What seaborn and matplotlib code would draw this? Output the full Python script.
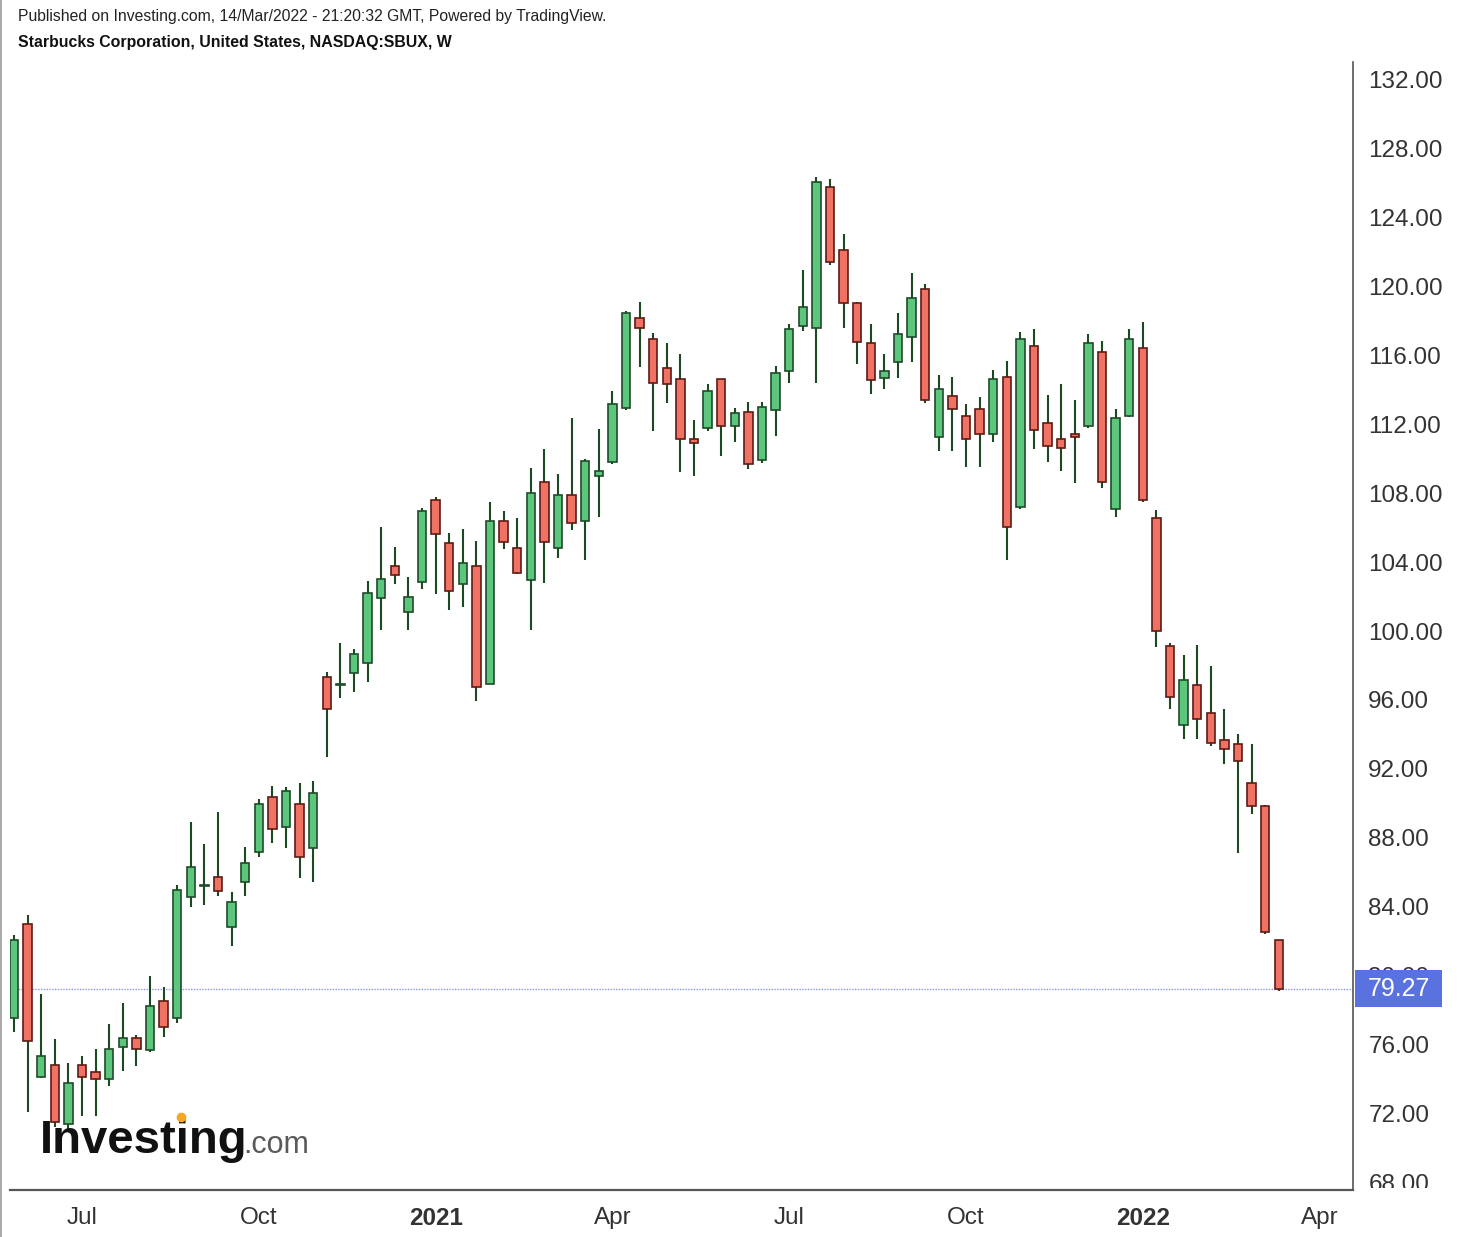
import numpy as np
import pandas as pd
import matplotlib
matplotlib.use("Agg")
import matplotlib.pyplot as plt
import seaborn as sns
from matplotlib.patches import Rectangle
from matplotlib.lines import Line2D
import matplotlib.transforms as mtransforms

# weekly OHLC, SBUX, weeks starting 2020-06-01
opens = [77.57, 83.01, 74.16, 74.84, 71.40, 74.84, 74.43, 74.01, 75.87, 76.42,
         75.71, 78.53, 77.55, 84.56, 85.20, 85.76, 82.82, 85.47, 87.17, 90.36,
         88.62, 89.95, 87.44, 97.35, 96.85, 97.58, 98.13, 101.93, 103.77, 101.12,
         102.82, 107.59, 105.08, 102.72, 103.77, 96.93, 106.40, 104.83, 102.96, 108.66,
         104.79, 107.88, 106.40, 109.00, 109.78, 112.94, 118.13, 116.93, 115.23, 114.59,
         111.13, 111.79, 114.59, 111.90, 112.71, 109.91, 112.81, 115.07, 117.70, 117.55,
         125.76, 122.09, 119.03, 116.68, 114.68, 115.58, 117.03, 119.83, 111.26, 113.64,
         112.46, 112.85, 111.40, 114.71, 107.17, 116.52, 112.04, 111.13, 111.42, 111.90,
         116.16, 107.06, 112.48, 116.39, 106.54, 99.12, 94.57, 96.88, 95.27, 93.70,
         93.44, 91.19, 89.85, 82.06]
highs = [82.38, 83.54, 78.94, 76.33, 74.97, 75.38, 75.79, 77.22, 78.42, 76.56,
         80.00, 79.34, 85.26, 88.95, 87.63, 89.49, 84.87, 87.50, 90.26, 91.03,
         90.94, 91.17, 91.30, 97.61, 99.32, 98.94, 102.90, 106.05, 104.89, 103.15,
         107.11, 107.79, 105.66, 105.91, 105.23, 107.50, 106.96, 106.57, 109.47, 110.53,
         109.08, 112.37, 109.97, 111.71, 113.93, 118.55, 119.09, 117.26, 116.71, 116.06,
         112.23, 114.32, 114.62, 112.91, 113.29, 113.29, 115.38, 117.78, 120.93, 126.30,
         126.19, 123.01, 119.10, 117.78, 116.06, 118.42, 120.77, 120.12, 114.84, 114.71,
         113.16, 113.55, 115.13, 115.65, 117.35, 117.49, 113.68, 114.32, 113.39, 117.22,
         116.83, 112.87, 117.49, 117.90, 106.99, 99.28, 98.62, 99.16, 97.96, 95.47,
         94.01, 93.46, 89.90, 82.10]
lows = [76.75, 72.13, 74.10, 71.26, 71.00, 71.88, 71.88, 73.62, 74.51, 74.78,
        75.60, 76.48, 77.29, 83.98, 84.12, 84.66, 81.76, 84.64, 86.88, 87.69,
        87.40, 85.70, 85.43, 92.71, 96.10, 96.48, 97.03, 100.06, 102.71, 100.06,
        102.42, 102.14, 101.22, 101.37, 95.96, 96.90, 104.75, 103.30, 100.06, 102.80,
        104.25, 105.86, 104.12, 106.63, 109.70, 112.81, 115.29, 111.61, 113.20, 109.23,
        108.99, 111.61, 110.16, 110.94, 109.37, 109.76, 111.32, 114.39, 117.39, 114.39,
        121.22, 117.55, 115.46, 113.72, 114.01, 114.65, 115.58, 113.20, 110.43, 110.43,
        109.52, 109.52, 110.97, 104.12, 107.10, 110.55, 109.78, 109.28, 108.60, 111.75,
        108.31, 106.63, 112.39, 107.50, 99.06, 95.47, 93.76, 93.76, 93.36, 92.30,
        87.14, 89.39, 82.41, 79.10]
closes = [82.09, 76.25, 75.36, 71.55, 73.78, 74.13, 74.01, 75.75, 76.42, 75.75,
          78.26, 77.03, 84.99, 86.30, 85.24, 84.93, 84.31, 86.53, 89.97, 88.50,
          90.74, 86.92, 90.63, 95.46, 96.90, 98.67, 102.18, 103.00, 103.25, 101.95,
          106.96, 105.61, 102.32, 103.92, 96.77, 106.40, 105.18, 103.34, 107.98, 105.18,
          107.88, 106.24, 109.86, 109.29, 113.14, 118.42, 117.55, 114.39, 114.30, 111.11,
          110.88, 113.91, 111.90, 112.62, 109.66, 113.00, 114.97, 117.49, 118.80, 126.01,
          121.37, 119.00, 116.77, 114.55, 115.09, 117.22, 119.32, 113.39, 114.03, 112.85,
          111.11, 111.42, 114.59, 106.01, 116.93, 111.65, 110.72, 110.59, 111.26, 116.68,
          108.62, 112.33, 116.93, 107.59, 100.02, 96.17, 97.15, 94.87, 93.50, 93.14,
          92.46, 89.83, 82.53, 79.27]

last_price = 79.27
first_week = "2020-06-01"
tick_months = ["2020-07", "2020-10", "2021-01", "2021-04", "2021-07", "2021-10", "2022-01", "2022-04"]
tick_labels = ["Jul", "Oct", "2021", "Apr", "Jul", "Oct", "2022", "Apr"]
y_ticks = list(range(68, 133, 4))

sns.set_theme(style="white")
plt.rcParams["font.family"] = ["Liberation Sans", "DejaVu Sans"]

W, H = 1463, 1237
fig = plt.figure(figsize=(W / 100, H / 100), dpi=100)
ax = fig.add_axes([10 / W, 1 - 1190 / H, 1343 / W, 1128 / H])

o = np.array(opens)
h = np.array(highs)
l = np.array(lows)
c = np.array(closes)
idx = np.arange(len(o))
up = c >= o

green_fill, green_edge = "#5bc67c", "#1f4b29"
red_fill, red_edge = "#ef7264", "#5e1b14"
wick = "#1b4a22"

ax.vlines(idx, l, h, colors=wick, linewidth=1.5, zorder=2)
body_h = np.maximum(np.abs(c - o), 0.06)
body_b = np.minimum(o, c)
ax.bar(idx[up], body_h[up], bottom=body_b[up], width=0.62,
       color=green_fill, edgecolor=green_edge, linewidth=1.2, zorder=3)
ax.bar(idx[~up], body_h[~up], bottom=body_b[~up], width=0.62,
       color=red_fill, edgecolor=red_edge, linewidth=1.2, zorder=3)

# current price line + label
ax.axhline(last_price, color="#8797f2", linestyle=(0, (1, 1)), linewidth=1.0, zorder=1)
trans = mtransforms.blended_transform_factory(ax.transAxes, ax.transData)
ax.add_patch(Rectangle((1.0015, last_price - 1.05), 0.0648, 2.1, transform=trans,
                       facecolor="#5a72e0", edgecolor="none", clip_on=False, zorder=10))
ax.text(1.0015 + 0.0324, last_price, f"{last_price:.2f}", transform=trans,
        ha="center", va="center", color="white", fontsize=18, zorder=11, clip_on=False)

ax.set_xlim(-0.294, 98.46)
ax.set_ylim(67.59, 132.99)

start = pd.Timestamp(first_week)
tick_pos = [int(np.ceil((pd.Timestamp(m + "-01") - start).days / 7)) for m in tick_months]
ax.set_xticks(tick_pos)
ax.set_xticklabels(tick_labels)
for lab in ax.get_xticklabels():
    if lab.get_text() in ("2021", "2022"):
        lab.set_fontweight("bold")

ax.yaxis.tick_right()
ax.set_yticks(y_ticks)
# lowest label is cut off by the bottom of the chart pane, drawn separately below
ax.set_yticklabels(["" if v == y_ticks[0] else f"{v:.2f}" for v in y_ticks])

ax.tick_params(axis="both", direction="out", length=5, width=1, color="#555555",
               labelsize=17.5, labelcolor="#333333")
ax.tick_params(axis="x", pad=7)
ax.tick_params(axis="y", pad=6)

low_lab = fig.text(1369 / W, 1 - 1185 / H, f"{y_ticks[0]:.2f}",
                   fontsize=17.5, color="#333333", ha="left", va="center")
clip_rect = Rectangle((1355 / W, 1 - 1188 / H), 108 / W, 1126 / H,
                      transform=fig.transFigure, facecolor="none", edgecolor="none")
fig.add_artist(clip_rect)
low_lab.set_clip_on(True)
low_lab.set_clip_path(clip_rect)

sns.despine(ax=ax, left=True, top=True, right=False, bottom=False)
ax.spines["right"].set_color("#555555")
ax.spines["right"].set_linewidth(1.2)
ax.spines["bottom"].set_color("#555555")
ax.spines["bottom"].set_linewidth(1.6)
ax.grid(False)

# header
fig.text(18 / W, 1 - 17 / H, "Published on Investing.com, 14/Mar/2022 - 21:20:32 GMT, Powered by TradingView.",
         fontsize=11.3, color="#222222", va="center", ha="left")
fig.text(18 / W, 1 - 43 / H, "Starbucks Corporation, United States, NASDAQ:SBUX, W",
         fontsize=11.4, fontweight="bold", color="#111111", va="center", ha="left")

# watermark
fig.text(40 / W, 1 - 1153 / H, "Investing", fontsize=34, fontweight="bold",
         color="#111111", va="baseline", ha="left", zorder=20)
fig.text(243 / W, 1 - 1153 / H, ".com", fontsize=22, color="#5a5a5a",
         va="baseline", ha="left", zorder=20)
fig.add_artist(Line2D([181 / W], [1 - 1117 / H], marker="o", markersize=6,
                      color="#f5a623", linestyle="none", zorder=21))

# left border
fig.add_artist(Line2D([0.0004, 0.0004], [0, 1], color="#9a9a9a", linewidth=1.2))

fig.savefig("out.png", dpi=100, facecolor="white")
